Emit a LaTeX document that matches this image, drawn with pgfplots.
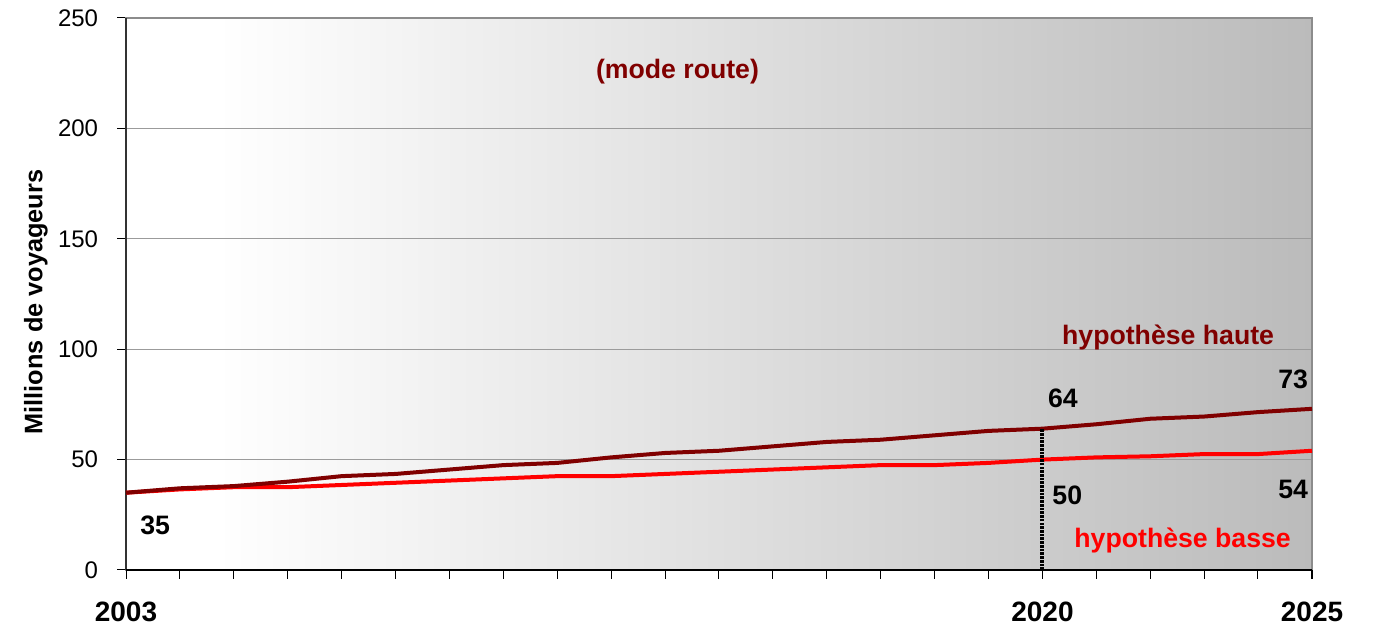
\documentclass[border=0pt]{standalone}
\usepackage{fontspec}
\setmainfont{Liberation Sans}
\usepackage{pgfplots}
\pgfplotsset{compat=1.18}

\definecolor{haute}{RGB}{128,0,0}
\definecolor{basse}{RGB}{255,0,0}
\definecolor{gridgray}{RGB}{155,155,155}
\definecolor{framegray}{RGB}{140,140,140}
\definecolor{axisdark}{RGB}{50,50,50}
\definecolor{bgend}{RGB}{187,187,187}

% white on the left, fading to grey towards the right edge
\pgfdeclarehorizontalshading{bgshade}{100bp}{%
  color(0bp)=(white); color(25bp)=(white); color(28.8bp)=(white);
  color(75bp)=(bgend); color(100bp)=(bgend)}

\begin{document}
\begin{tikzpicture}
\useasboundingbox (0,0) rectangle (1032pt,472.5pt);
\begin{axis}[
  at={(94.5pt,45pt)}, anchor=south west,
  scale only axis, width=889.5pt, height=414pt,
  xmin=2003, xmax=2025, ymin=0, ymax=250,
  axis background/.style={shade, shading=bgshade},
  axis line style={draw=framegray, line width=1.2pt},
  xtick={2003,...,2025}, xticklabels={},
  extra x ticks={2003,2020,2025},
  extra x tick labels={2003,2020,2025},
  extra x tick style={tick label style={font=\fontsize{21}{24}\selectfont\bfseries,
      anchor=base, inner sep=0pt, yshift=-32.5pt}},
  ytick={0,50,...,250},
  yticklabel style={font=\fontsize{18}{20}\selectfont, anchor=east,
      inner sep=0pt, xshift=-14.25pt},
  /pgf/number format/assume math mode=true,
  tick align=outside, xtick pos=bottom, ytick pos=left,
  major tick length=6.5pt,
  tick style={black, line width=0.75pt},
  ymajorgrids, grid style={gridgray, line width=0.75pt},
  clip=false,
]
% left and bottom axis lines in dark
\draw[axisdark, line width=1.2pt] (rel axis cs:0,0) -- (rel axis cs:0,1);
\draw[black, line width=1.2pt] (rel axis cs:0,0) -- (rel axis cs:1,0);

% hypothese basse
\addplot[basse, line width=3pt, line join=round, mark=none] table {
x y
2003 35
2004 36.5
2005 37.5
2006 37.5
2007 38.5
2008 39.5
2009 40.5
2010 41.5
2011 42.5
2012 42.5
2013 43.5
2014 44.5
2015 45.5
2016 46.5
2017 47.5
2018 47.5
2019 48.5
2020 50
2021 51
2022 51.5
2023 52.5
2024 52.5
2025 54
};

% hypothese haute
\addplot[haute, line width=3pt, line join=round, mark=none] table {
x y
2003 35
2004 37
2005 38
2006 40
2007 42.5
2008 43.5
2009 45.5
2010 47.5
2011 48.5
2012 51
2013 53
2014 54
2015 56
2016 58
2017 59
2018 61
2019 63
2020 64
2021 66
2022 68.5
2023 69.5
2024 71.5
2025 73
};

% marker of the year 2020
\addplot[black, line width=3pt, dash pattern=on 2pt off 0.8pt, mark=none]
  coordinates {(2020,0) (2020,64)};

% annotations
\begin{scope}[every node/.style={inner sep=0pt, font=\fontsize{20}{24}\selectfont\bfseries}]
\node[anchor=base, text=haute] at (axis cs:2013.23,222.6) {(mode route)};
\node[anchor=base, text=haute] at (axis cs:2022.33,101.9) {hypothèse haute};
\node[anchor=base, text=basse] at (axis cs:2022.60,10.1) {hypothèse basse};
\node[anchor=base] at (axis cs:2003.54,16.3) {35};
\node[anchor=base] at (axis cs:2020.38,73.8) {64};
\node[anchor=base] at (axis cs:2020.46,29.6) {50};
\node[anchor=base] at (axis cs:2024.65,82.3) {73};
\node[anchor=base] at (axis cs:2024.65,32.5) {54};
\end{scope}

\node[rotate=90, inner sep=0pt, font=\fontsize{19}{22}\selectfont\bfseries]
  at ([xshift=-67.5pt]rel axis cs:0,0.4855) {Millions de voyageurs};
\end{axis}
\end{tikzpicture}
\end{document}
